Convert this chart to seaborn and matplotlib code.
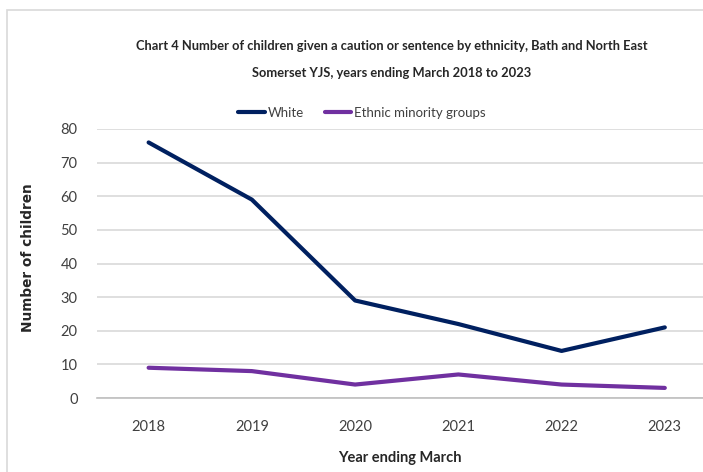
import matplotlib
matplotlib.use("Agg")
import matplotlib.pyplot as plt
import seaborn as sns
import pandas as pd
from matplotlib.patches import Rectangle
from matplotlib.lines import Line2D

years = ["2018", "2019", "2020", "2021", "2022", "2023"]
white = [76, 59, 29, 22, 14, 21]
ethnic_minority = [9, 8, 4, 7, 4, 3]
series_names = ["White", "Ethnic minority groups"]
colors = ["#002060", "#7030A0"]

df = pd.DataFrame({
    "Year": years * 2,
    "Count": white + ethnic_minority,
    "Group": [series_names[0]] * len(years) + [series_names[1]] * len(years),
})

sns.set_theme(style="white")
plt.rcParams["font.family"] = ["Lato", "DejaVu Sans"]

fig = plt.figure(figsize=(7.03, 4.72), dpi=100)
fig.patches.append(Rectangle((7/703, -0.01), 1.0, (472-10)/472 + 0.01, transform=fig.transFigure,
                             fill=False, edgecolor="#d9d9d9", linewidth=1.2))
ax = fig.add_axes([97/703, (472-398)/472, (703-97)/703, (398-129)/472])

sns.lineplot(data=df, x="Year", y="Count", hue="Group", palette=colors,
             linewidth=3, ax=ax, legend=False, sort=False)

ax.set_xlim(-0.5, 5.37)
ax.set_ylim(0, 80)
ax.set_yticks(range(0, 81, 10))
ax.yaxis.grid(True, color="#d9d9d9", linewidth=1.2)
ax.set_axisbelow(True)
for s in ["top", "right", "left"]:
    ax.spines[s].set_visible(False)
ax.spines["bottom"].set_color("#bfbfbf")
ax.spines["bottom"].set_linewidth(1.2)
ax.tick_params(axis="both", length=0, labelsize=10.5, colors="#404040")
ax.tick_params(axis="y", pad=14)
ax.tick_params(axis="x", pad=16)
ax.set_xlabel("Year ending March", fontsize=10.5, fontweight="bold", color="#262626", labelpad=12)
ax.set_ylabel("Number of children", fontsize=9.8, fontweight="bold", color="#262626",
              family=["DejaVu Sans"])
ax.yaxis.set_label_coords(-62/606, 0.52)

fig.text(392/703, 1 - 46/472, "Chart 4 Number of children given a caution or sentence by ethnicity, Bath and North East",
         ha="center", va="center", fontsize=9.3, fontweight="bold", color="#262626")
fig.text(392/703, 1 - 73/472, "Somerset YJS, years ending March 2018 to 2023",
         ha="center", va="center", fontsize=9.3, fontweight="bold", color="#262626")

handles = [Line2D([0], [0], color=c, linewidth=3) for c in colors]
fig.legend(handles, series_names, loc="center", bbox_to_anchor=(362/703, 1 - 113/472),
           ncol=2, frameon=False, fontsize=9.5, handlelength=2.0, handletextpad=0.2,
           columnspacing=1.6, labelcolor="#404040")

fig.savefig("out.png", dpi=100)
